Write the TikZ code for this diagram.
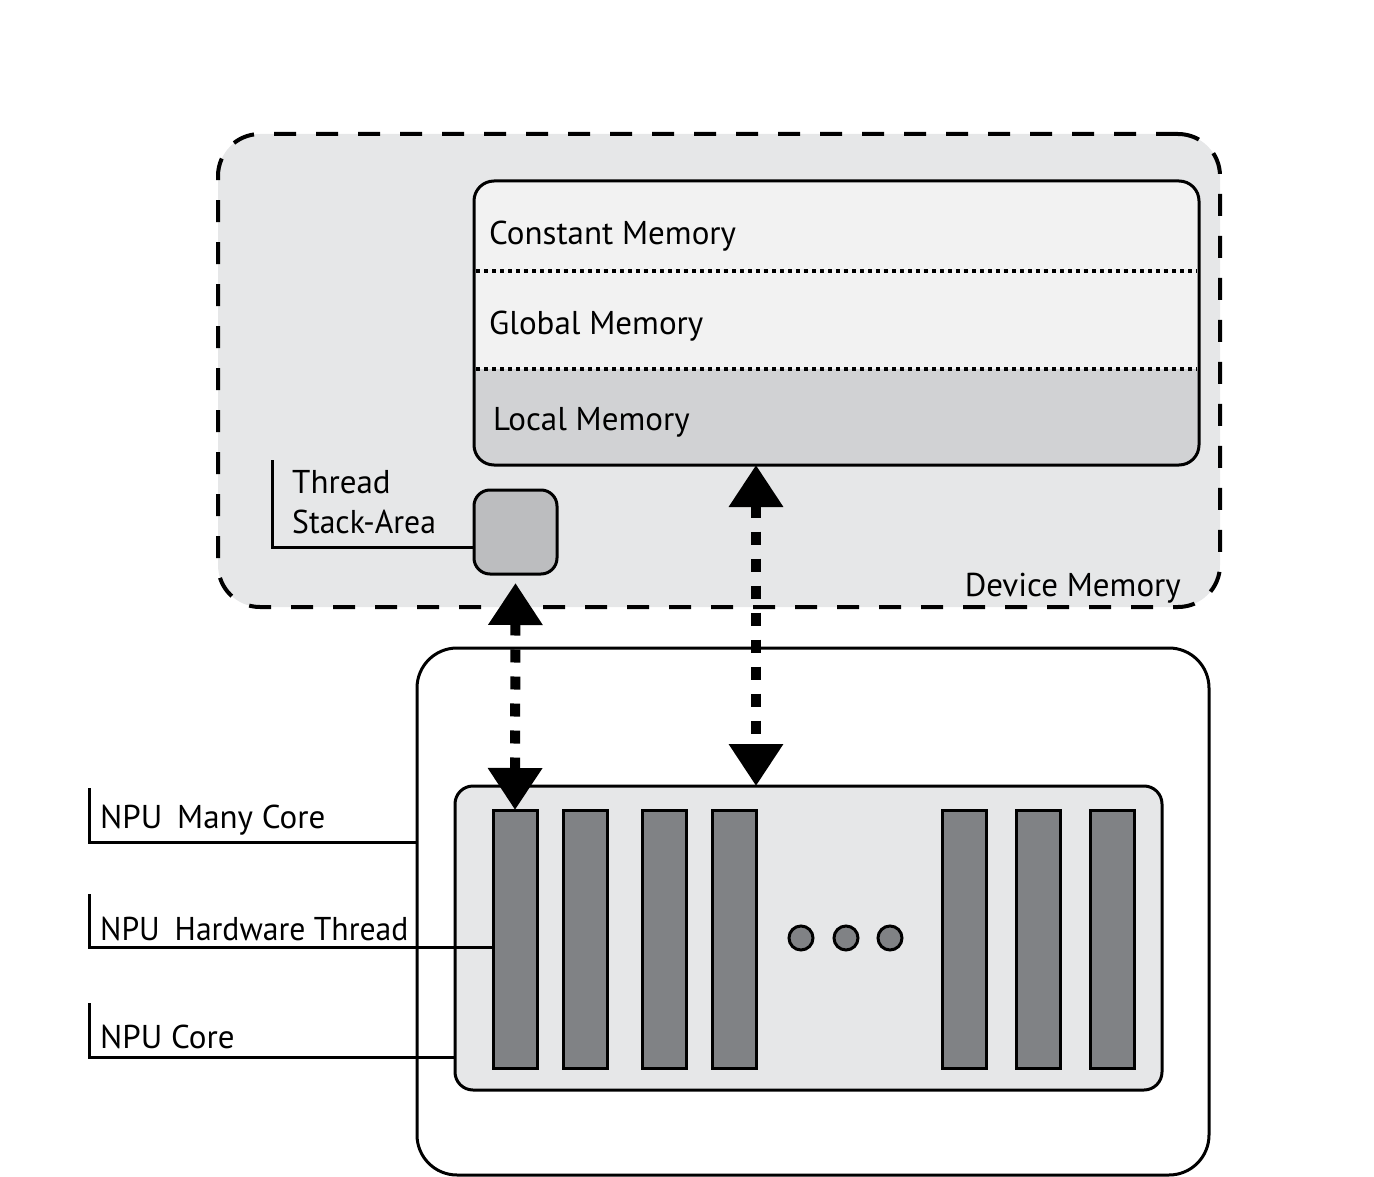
\documentclass[tikz,border=0pt]{standalone}
\usepackage{fontspec}
\setmainfont{PT Sans}
\newfontfamily\narrowsans[FakeStretch=0.96]{PT Sans}
\usetikzlibrary{arrows.meta}
\definecolor{devfill}{HTML}{E6E7E8}
\definecolor{memfill}{HTML}{F2F2F2}
\definecolor{locfill}{HTML}{D1D2D4}
\definecolor{stackfill}{HTML}{BCBDBF}
\definecolor{barfill}{HTML}{808285}
\tikzset{
  box/.style={draw=black, line width=3pt, outer sep=0pt, inner sep=0pt},
  lbl/.style={anchor=base west, inner sep=0pt, font=\fontsize{33}{36}\selectfont},
  leader/.style={line width=3pt},
  sep/.style={line width=3.5pt, dash pattern=on 4pt off 4pt},
  flow/.style={line width=10pt, dash pattern=on 13pt off 14pt,
    {Triangle[width=52pt,length=42pt]}-{Triangle[width=52pt,length=42pt]}},
  bar/.style={box, fill=barfill, minimum width=44pt, minimum height=258pt},
  dot/.style={box, circle, fill=barfill, minimum size=24pt},
}
\newcommand{\gapsp}{\hspace{0.45em}}
\begin{document}
\begin{tikzpicture}[x=1pt,y=-1pt]
\useasboundingbox (0,0) rectangle (1374,1177);
% Device memory
\node[box, line width=4pt, dash pattern=on 22pt off 20pt, fill=devfill, rounded corners=42pt,
  minimum width=1002pt, minimum height=473pt] (dev) at (719,370.5) {};
% memory box
\node[fill=memfill, rounded corners=20pt, outer sep=0pt, inner sep=0pt,
  minimum width=725pt, minimum height=284pt] (mem) at (836.5,323) {};
\begin{scope}
  \clip[rounded corners=20pt] (474,181) rectangle (1199,465);
  \fill[locfill] (474,369) rectangle (1199,465);
\end{scope}
\draw[line width=3pt, rounded corners=20pt] (mem.north west) rectangle (mem.south east);
\coordinate (s1w) at (476,271);
\coordinate (s1e) at (1197,271);
\coordinate (s2w) at (476,369);
\coordinate (s2e) at (1197,369);
\draw[sep] (s1w) -- (s1e);
\draw[sep] (s2w) -- (s2e);
\node[lbl] (cm) at (489,244) {Constant Memory};
\node[lbl] (gm) at (489,334) {Global Memory};
\node[lbl] (lm) at (493,430) {Local Memory};
\node[lbl, anchor=base east] (dm) at (1181,596) {Device Memory};
% thread stack area
\node[box, fill=stackfill, rounded corners=16pt, minimum width=83pt, minimum height=84pt] (stack) at (515.5,532) {};
\node[lbl] (th) at (292,493) {Thread};
\node[lbl] (sa) at (292,533) {\narrowsans Stack-Area};
\coordinate (tsl) at (272,460);
\draw[leader] (tsl) |- (stack.west |- 0,547);
% many core box
\node[box, fill=white, rounded corners=40pt, minimum width=792pt, minimum height=527pt] (many) at (813,911.5) {};
% core box
\node[box, fill=devfill, rounded corners=18pt, minimum width=707pt, minimum height=304pt] (core) at (808.5,938) {};
% bars
\node[bar] (b1) at (515,939) {};
\node[bar] (b2) at (585,939) {};
\node[bar] (b3) at (664,939) {};
\node[bar] (b4) at (734,939) {};
\node[bar] (b5) at (964,939) {};
\node[bar] (b6) at (1038,939) {};
\node[bar] (b7) at (1112,939) {};
\node[dot] (d1) at (801,938) {};
\node[dot] (d2) at (846,938) {};
\node[dot] (d3) at (890,938) {};
% arrows
\draw[flow, shorten <=9pt] (stack.south) -- (b1.north);
\coordinate (a2top) at (756,465);
\coordinate (a2bot) at (756,786);
\draw[flow] (a2top) -- (a2bot);
% left labels
\node[lbl] (mc) at (100,828) {NPU\gapsp Many Core};
\node[lbl] (ht) at (100,940) {\narrowsans NPU\gapsp Hardware Thread};
\node[lbl] (nc) at (100,1048) {NPU Core};
\coordinate (mcl) at (89,788);
\coordinate (htl) at (89,894);
\coordinate (ncl) at (89,1003);
\draw[leader] (mcl) |- (many.west |- 0,842);
\draw[leader] (htl) |- (b1.west |- 0,947);
\draw[leader] (ncl) |- (core.west |- 0,1057);
\end{tikzpicture}
\end{document}
